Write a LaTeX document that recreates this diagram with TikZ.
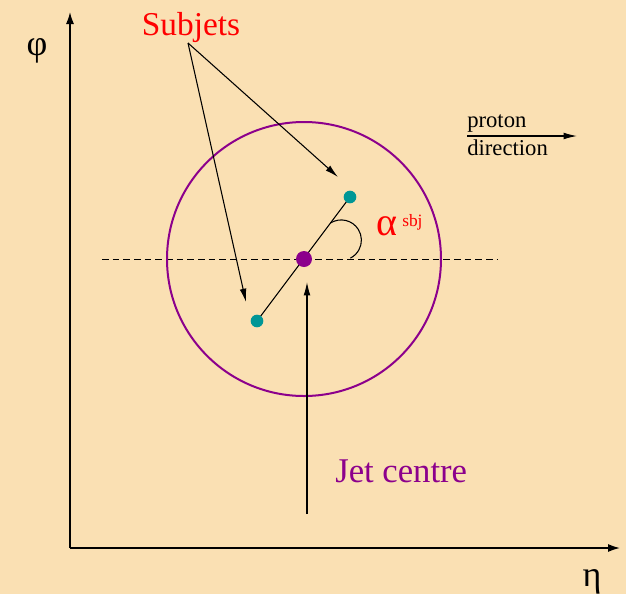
\documentclass[tikz,border=0pt]{standalone}
\usepackage{fontspec}
\setmainfont{Liberation Serif}
\usetikzlibrary{arrows.meta}
\definecolor{bg}{RGB}{250,224,179}
\definecolor{jetpurple}{RGB}{140,0,140}
\definecolor{subteal}{RGB}{0,150,150}
\definecolor{labred}{RGB}{255,0,0}
\tikzset{
  axis/.style={line width=1.1pt,-{Latex[length=9pt,width=6pt]}},
  pointer/.style={line width=0.8pt,-{Latex[length=10pt,width=5pt]}},
  bigtext/.style={font=\fontsize{25}{28}\selectfont, inner sep=0pt},
  smalltext/.style={font=\fontsize{17}{19}\selectfont, inner sep=0pt, anchor=base west},
}
\begin{document}
\begin{tikzpicture}[x=0.75pt,y=-0.75pt]
\fill[bg] (0,0) rectangle (626,594);
\useasboundingbox (0,0) rectangle (626,594);

% axes
\coordinate (origin) at (70,548);
\coordinate (ytip) at (70,12);
\coordinate (xtip) at (620,548);
\draw[axis] (origin) -- (ytip);
\draw[axis] (origin) -- (xtip);
\node[bigtext, font=\fontsize{27}{30}\selectfont, anchor=base] (phi) at (37,55) {φ};
\node[bigtext, font=\fontsize{27}{30}\selectfont, anchor=base] (eta) at (592,586) {η};

% dashed reference line
\coordinate (dl) at (102,259);
\coordinate (dr) at (497,259);
\draw[dashed, dash pattern=on 5pt off 3pt, line width=0.7pt] (dl) -- (dr);

% jet circle
\coordinate (jc) at (304,259);
\draw[jetpurple, line width=1.5pt] (jc) circle[radius=137];

% subjets
\coordinate (s1) at (350,197);
\coordinate (s2) at (257,321);
\draw[line width=0.8pt] (s2) -- (s1);
\node[circle, fill=subteal, minimum size=9.5pt, inner sep=0pt] (sub1) at (s1) {};
\node[circle, fill=subteal, minimum size=9.5pt, inner sep=0pt] (sub2) at (s2) {};
\node[circle, fill=jetpurple, minimum size=12pt, inner sep=0pt] (centre) at (jc) {};

% angle arc
\coordinate (arcstart) at (330.5,223);
\draw[line width=0.8pt] (arcstart) arc[start angle=-122, end angle=63, radius=20.2];
\node[inner sep=0pt, text=labred, font=\fontsize{30}{32}\selectfont, anchor=base west] (alpha) at (376,235) {α};
\node[inner sep=0pt, text=labred, font=\fontsize{13}{14}\selectfont, anchor=base west] (sbj) at (402,226) {sbj};

% subjets label and pointers
\node[bigtext, text=labred, anchor=base] (subjets) at (191,35) {Subjets};
\coordinate (apex) at (188,43);
\coordinate (tip1) at (338,177);
\coordinate (tip2) at (246,302);
\draw[pointer] (apex) -- (tip1);
\draw[pointer] (apex) -- (tip2);

% jet centre label and pointer
\node[bigtext, font=\fontsize{26}{29}\selectfont, text=jetpurple, anchor=base west] (jetlabel) at (335,482) {Jet centre};
\coordinate (jbot) at (307,514);
\coordinate (jtip) at (307,282);
\draw[pointer] (jbot) -- (jtip);

% proton direction
\node[smalltext] (proton) at (467,127) {proton};
\node[smalltext] (direction) at (467,155) {direction};
\coordinate (pl) at (467,136);
\coordinate (pr) at (577,136);
\draw[pointer] (pl) -- (pr);
\end{tikzpicture}
\end{document}
